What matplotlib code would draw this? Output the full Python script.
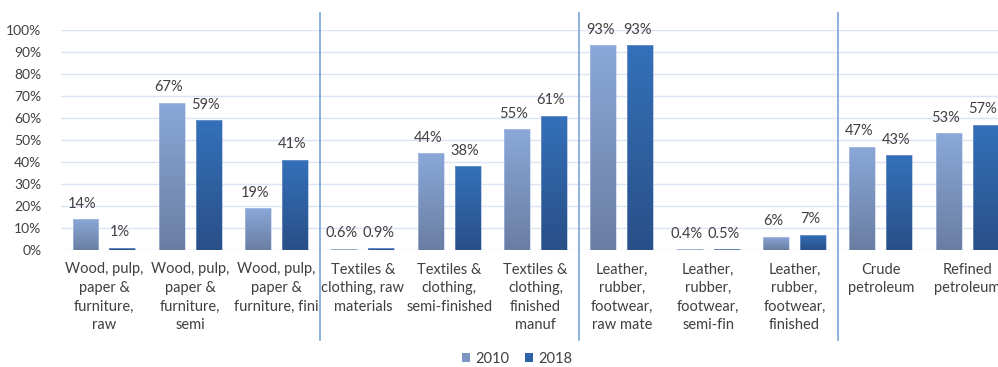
import matplotlib
matplotlib.use("Agg")
import matplotlib.pyplot as plt
import numpy as np
from matplotlib.colors import LinearSegmentedColormap
from matplotlib.patches import Patch

categories = [
    "Wood, pulp,\npaper &\nfurniture,\nraw",
    "Wood, pulp,\npaper &\nfurniture,\nsemi",
    "Wood, pulp,\npaper &\nfurniture, fini",
    "Textiles &\nclothing, raw\nmaterials",
    "Textiles &\nclothing,\nsemi-finished",
    "Textiles &\nclothing,\nfinished\nmanuf",
    "Leather,\nrubber,\nfootwear,\nraw mate",
    "Leather,\nrubber,\nfootwear,\nsemi-fin",
    "Leather,\nrubber,\nfootwear,\nfinished",
    "Crude\npetroleum",
    "Refined\npetroleum",
]
values_2010 = [14, 67, 19, 0.6, 44, 55, 93, 0.4, 6, 47, 53]
values_2018 = [1, 59, 41, 0.9, 38, 61, 93, 0.5, 7, 43, 57]
series_names = ["2010", "2018"]
yticks = list(range(0, 101, 10))
group_breaks = [2.5, 5.5, 8.5]

plt.rcParams["font.family"] = ["Lato", "DejaVu Sans"]
text_color = "#404040"

W, H = 998, 367
fig = plt.figure(figsize=(W / 100, H / 100), dpi=100)
left_px, right_px = 60.8, 1010.2
top_px, bottom_px = 30, 250
ax = fig.add_axes([left_px / W, (H - bottom_px) / H,
                   (right_px - left_px) / W, (bottom_px - top_px) / H])

x = np.arange(len(categories))
bw = 0.30
off = 0.214

grad_2010 = LinearSegmentedColormap.from_list("g10", ["#6a7ea2", "#8aa8d9"])
grad_2018 = LinearSegmentedColormap.from_list("g18", ["#294f87", "#3471ba"])

bars_a = ax.bar(x - off, values_2010, bw, color="none", edgecolor="#b8c8e6",
                linewidth=0.4, zorder=3)
bars_b = ax.bar(x + off, values_2018, bw, color="none", edgecolor="#8fa9d4",
                linewidth=0.4, zorder=3)

grad = np.linspace(0, 1, 256).reshape(-1, 1)
for bars, cmap in ((bars_a, grad_2010), (bars_b, grad_2018)):
    for b in bars:
        bx, by = b.get_x(), b.get_y()
        w, h = b.get_width(), b.get_height()
        im = ax.imshow(grad, cmap=cmap, origin="lower", aspect="auto",
                       extent=[bx, bx + w, by, by + h], zorder=2)
        im.set_clip_path(b)

def fmt(v):
    return f"{v:.1f}%" if v < 1 else f"{v:.0f}%"

for bars, vals in ((bars_a, values_2010), (bars_b, values_2018)):
    for b, v in zip(bars, vals):
        ax.annotate(fmt(v), (b.get_x() + b.get_width() / 2 - 0.035, v),
                    xytext=(0, 6), textcoords="offset points",
                    ha="center", va="bottom", fontsize=10.5, color=text_color)

ax.set_xlim(-0.5, len(categories) - 0.5)
ax.set_ylim(0, 100)
ax.set_yticks(yticks)
ax.set_yticklabels([f"{t}%" for t in yticks], fontsize=10, color=text_color)
ax.set_xticks(x)
ax.set_xticklabels(categories, fontsize=10.5, color=text_color, linespacing=1.42,
                   va="top")
ax.tick_params(axis="both", length=0)
ax.tick_params(axis="y", pad=14)
ax.tick_params(axis="x", pad=9)
ax.set_axisbelow(True)
ax.grid(axis="y", color="#dae4f3", linewidth=1.0)
for s in ax.spines.values():
    s.set_visible(False)

# group separators reaching from above the plot down into the label band
for gx in group_breaks:
    ax.plot([gx, gx], [1.077, -0.41], transform=ax.get_xaxis_transform(),
            color="#6f9bd6", linewidth=1.1, clip_on=False, zorder=4)

handles = [Patch(facecolor="#7d96c4", edgecolor="none"),
           Patch(facecolor="#2f62a6", edgecolor="none")]
fig.legend(handles, series_names, loc="center", bbox_to_anchor=(517 / W, 1 - 359 / H),
           ncol=2, frameon=False, fontsize=10.5, handlelength=0.55, handleheight=0.55,
           handletextpad=0.35, columnspacing=1.1, labelcolor=text_color)

fig.savefig("out.png", dpi=100, facecolor="white")
